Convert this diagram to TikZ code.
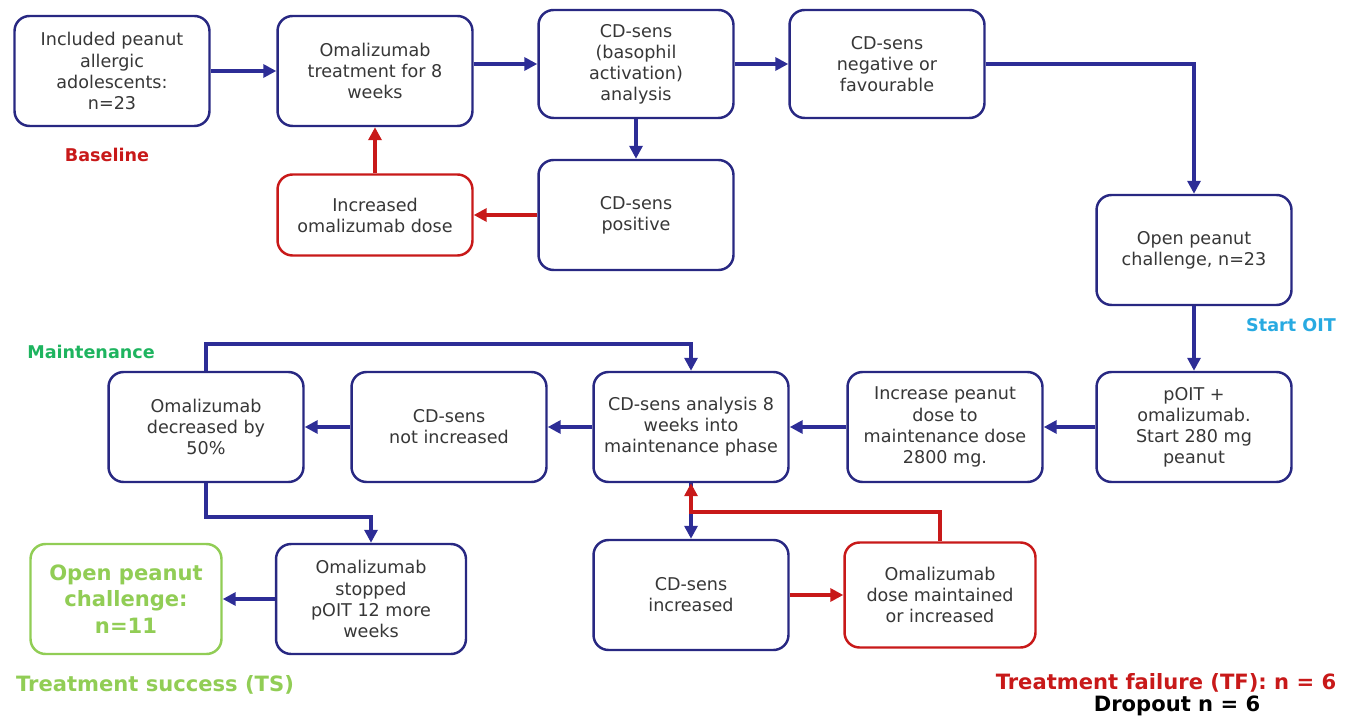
\documentclass[tikz,border=0pt]{standalone}
\usepackage{fontspec}
\setmainfont{DejaVu Sans}
\usetikzlibrary{arrows.meta,positioning,calc}
\definecolor{navy}{RGB}{40,40,130}
\definecolor{flowblue}{RGB}{45,45,150}
\definecolor{failred}{RGB}{200,25,25}
\definecolor{okgreen}{RGB}{145,205,85}
\definecolor{maintgreen}{RGB}{30,180,95}
\definecolor{oitcyan}{RGB}{40,170,225}
\definecolor{ink}{RGB}{55,55,55}
\tikzset{
  box/.style={draw=navy, rounded corners=3mm, line width=1.4pt, fill=white, text=ink,
              font=\fontsize{10}{12}\selectfont, align=center,
              minimum width=3.9cm, minimum height=2.2cm, inner sep=2pt},
  redbox/.style={box, draw=failred},
  greenbox/.style={box, draw=okgreen, text=okgreen, font=\bfseries\fontsize{12}{15}\selectfont},
  flow/.style={-{Triangle[length=2.6mm,width=2.6mm]}, flowblue, line width=2pt},
  redflow/.style={flow, failred},
  tag/.style={font=\bfseries\fontsize{10}{12}\selectfont},
  bigtag/.style={font=\bfseries\fontsize{12}{14}\selectfont},
}
\begin{document}
\begin{tikzpicture}[x=0.02cm, y=-0.02cm]
  \useasboundingbox (0,0) rectangle (1352,719);
  % baseline row
  \node[box] (incl) at (112,71) {Included peanut\\allergic\\adolescents:\\n=23};
  \node[box] (oma8) at (375,71) {Omalizumab\\treatment for 8\\weeks};
  \node[box, minimum height=2.16cm] (cdana) at (636,64) {CD-sens\\(basophil\\activation)\\analysis};
  \node[box, minimum height=2.16cm] (cdneg) at (887,64) {CD-sens\\negative or\\favourable};
  \node[redbox, minimum height=1.62cm] (omainc) at (375,215) {Increased\\omalizumab dose};
  \node[box] (cdpos) at (636,215) {CD-sens\\positive};
  \node[box] (opc) at (1194,250) {Open peanut\\challenge, n=23};
  % maintenance row
  \node[box] (poit) at (1194,427) {pOIT +\\omalizumab.\\Start 280 mg\\peanut};
  \node[box] (incpd) at (945,427) {Increase peanut\\dose to\\maintenance dose\\2800 mg.};
  \node[box] (cd8w) at (691,427) {CD-sens analysis 8\\weeks into\\maintenance phase};
  \node[box] (cdnot) at (449,427) {CD-sens\\not increased};
  \node[box] (omadec) at (206,427) {Omalizumab\\decreased by\\50\%};
  % outcome row
  \node[box, minimum width=3.8cm] (omastop) at (371,599) {Omalizumab\\stopped\\pOIT 12 more\\weeks};
  \node[greenbox, minimum width=3.82cm] (opc11) at (126,599) {Open peanut\\challenge:\\n=11};
  \node[box] (cdinc) at (691,595) {CD-sens\\increased};
  \node[redbox, minimum width=3.82cm, minimum height=2.1cm] (omamnt) at (940,595) {Omalizumab\\dose maintained\\or increased};
  % phase labels
  \node[tag, text=failred] (lbase) at (107,155) {Baseline};
  \node[tag, text=oitcyan] (loit) at (1291,325) {Start OIT};
  \node[tag, text=maintgreen] (lmaint) at (91,352) {Maintenance};
  \node[bigtag, text=okgreen] (lts) at (155,685) {Treatment success (TS)};
  \node[bigtag, text=failred] (ltf) at (1166,683) {Treatment failure (TF): n = 6};
  \node[bigtag, text=black] (ldrop) at (1177,706) {Dropout n = 6};
  % helper points
  \coordinate (looptop) at (450,344);
  \coordinate (stopbend) at (290,517);
  \coordinate (redbend) at (800,512);
  % connectors
  \draw[flow] (incl) -- (oma8);
  \draw[flow] (oma8.east |- cdana) -- (cdana);
  \draw[flow] (cdana) -- (cdneg);
  \draw[flow] (cdana) -- (cdpos);
  \draw[redflow] (cdpos) -- (omainc);
  \draw[redflow] (omainc) -- (oma8);
  \draw[flow] (cdneg.east) -| (opc.north);
  \draw[flow] (opc) -- (poit);
  \draw[flow] (poit) -- (incpd);
  \draw[flow] (incpd) -- (cd8w);
  \draw[flow] (cd8w) -- (cdnot);
  \draw[flow] (cdnot) -- (omadec);
  \draw[flow] (omadec.north) |- (looptop) -| (cd8w.north);
  \draw[flow] (omadec.south) |- (stopbend) -| (omastop.north);
  \draw[flow] (omastop) -- (opc11);
  \draw[flow] (cd8w) -- (cdinc);
  \draw[redflow] (cdinc) -- (omamnt);
  \draw[redflow] (omamnt.north) |- (redbend) -| (cd8w.south);
\end{tikzpicture}
\end{document}
